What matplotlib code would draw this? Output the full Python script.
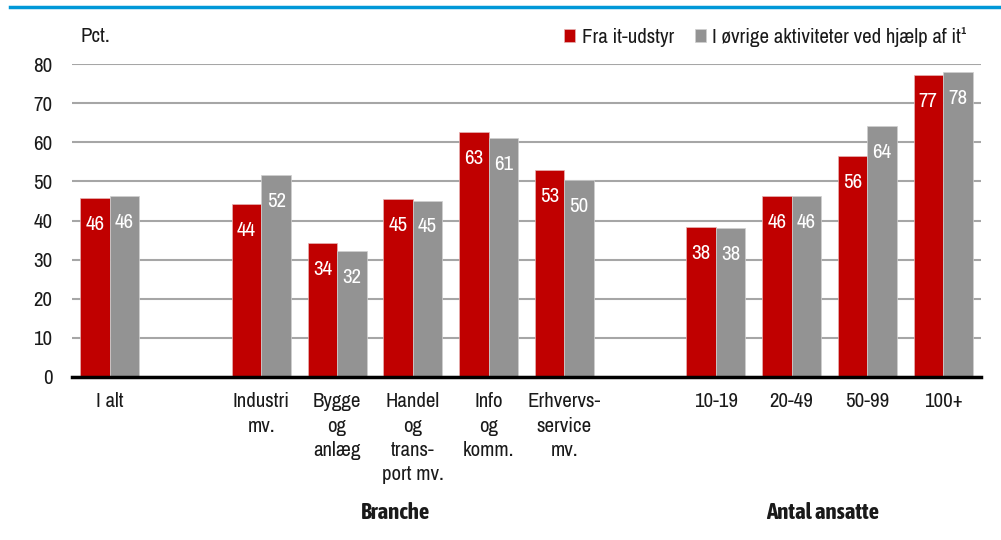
import matplotlib
matplotlib.use("Agg")
import matplotlib.pyplot as plt
import numpy as np

plt.rcParams['font.family'] = ['Archivo Narrow', 'Liberation Sans', 'DejaVu Sans']

categories = ["I alt", "Industri\nmv.", "Bygge\nog\nanlæg", "Handel\nog\ntrans-\nport mv.",
              "Info\nog\nkomm.", "Erhvervs-\nservice\nmv.", "10-19", "20-49", "50-99", "100+"]
slots = [0, 2, 3, 4, 5, 6, 8, 9, 10, 11]
fra_it = [45.8, 44.3, 34.3, 45.4, 62.7, 52.8, 38.4, 46.3, 56.4, 77.2]
ovrige = [46.3, 51.6, 32.1, 45.1, 61.0, 50.4, 38.0, 46.3, 64.2, 77.9]
series_names = ["Fra it-udstyr", "I øvrige aktiviteter ved hjælp af it¹"]
yticks = [0, 10, 20, 30, 40, 50, 60, 70, 80]

RED = "#C00000"
GRAY = "#939393"
TXT = "#1a1a1a"
FS = 15

fig = plt.figure(figsize=(10.01, 5.40), dpi=100)
ax = fig.add_axes([72/1001, 1-377/540, (981-72)/1001, (377-64)/540])

w = 0.39
x = np.array(slots, dtype=float)
b1 = ax.bar(x - w/2, fra_it, width=w, color=RED, edgecolor="#e6b3b3", linewidth=0.5, zorder=3, label=series_names[0])
b2 = ax.bar(x + w/2, ovrige, width=w, color=GRAY, edgecolor="#d0d0d0", linewidth=0.5, zorder=3, label=series_names[1])

for xs, vals in ((x - w/2, fra_it), (x + w/2, ovrige)):
    for xi, v in zip(xs, vals):
        ax.annotate(f"{round(v):d}", xy=(xi, v), xytext=(0, -19), textcoords="offset points",
                    ha="center", va="center", color="white", fontsize=FS, zorder=4)

ax.set_xlim(-0.5, 11.5)
ax.set_ylim(0, 80)
ax.set_yticks(yticks)
ax.set_yticklabels([str(t) for t in yticks], fontsize=FS, color=TXT)
ax.yaxis.grid(True, color="#a6a6a6", linewidth=1.5, zorder=0)
ax.set_axisbelow(True)
ax.tick_params(axis="y", length=0, pad=14)
ax.set_xticks(x)
ax.set_xticklabels(categories, fontsize=FS, color=TXT, linespacing=1.35)
ax.tick_params(axis="x", length=0, pad=11)
for s in ("top", "right", "left"):
    ax.spines[s].set_visible(False)
ax.spines["bottom"].set_color("black")
ax.spines["bottom"].set_linewidth(2.5)
ax.spines["bottom"].set_zorder(5)

fig.text(80/1001, 1-37/540, "Pct.", fontsize=FS, color=TXT, ha="left", va="center")
BOLD = ['Asap Condensed', 'Liberation Sans', 'DejaVu Sans']
fig.text(395/1001, 1-513/540, "Branche", fontsize=16.5, color=TXT, ha="center", va="center",
         fontweight="bold", family=BOLD)
fig.text(823/1001, 1-513/540, "Antal ansatte", fontsize=16.5, color=TXT, ha="center", va="center",
         fontweight="bold", family=BOLD)

leg = fig.legend(handles=[b1, b2], labels=series_names, loc="center right",
                 bbox_to_anchor=(967/1001, 1-37/540), ncol=2, frameon=False,
                 fontsize=15, handlelength=0.55, handleheight=0.55, handletextpad=0.3,
                 columnspacing=1.0, borderpad=0, borderaxespad=0)
for t in leg.get_texts():
    t.set_color(TXT)

fig.add_artist(plt.Line2D([10/1001, 1.0], [1-6.5/540, 1-6.5/540], color="#0098D8", linewidth=2.5,
                          transform=fig.transFigure))

fig.savefig("out.png", dpi=100)
